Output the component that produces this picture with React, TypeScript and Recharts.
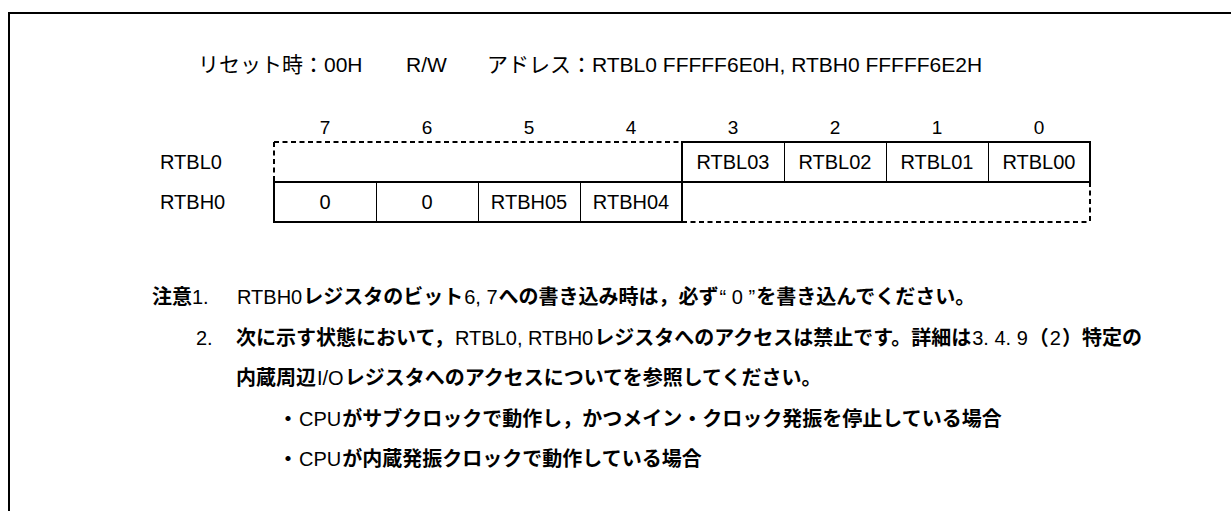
import React from 'react';
import { BarChart, Bar, XAxis, YAxis, LabelList } from 'recharts';

// register layout: bit 7 on the left, null = bit not in that register
const registerNames = ['RTBL0', 'RTBH0'];
const bitNumbers = [7, 6, 5, 4, 3, 2, 1, 0];
const rtbl0Bits: (string | null)[] = [null, null, null, null, 'RTBL03', 'RTBL02', 'RTBL01', 'RTBL00'];
const rtbh0Bits: (string | null)[] = ['0', '0', 'RTBH05', 'RTBH04', null, null, null, null];
const bitCells = [rtbl0Bits, rtbh0Bits];

const headerReset = 'リセット時：00H';
const headerAccess = 'R/W';
const headerAddress = 'アドレス：RTBL0 FFFFF6E0H, RTBH0 FFFFF6E2H';

const noteLines = [
  { prefix: '注意1.', text: 'RTBH0レジスタのビット6, 7への書き込み時は，必ず“ 0 ”を書き込んでください。' },
  { prefix: '2.', text: '次に示す状態において，RTBL0, RTBH0レジスタへのアクセスは禁止です。詳細は3. 4. 9（2）特定の' },
  { prefix: '', text: '内蔵周辺I/Oレジスタへのアクセスについてを参照してください。' },
  { prefix: '', text: '・CPUがサブクロックで動作し，かつメイン・クロック発振を停止している場合' },
  { prefix: '', text: '・CPUが内蔵発振クロックで動作している場合' },
];

const W = 1231;
const H = 511;
const LATIN = '"Liberation Sans", Arial, sans-serif';
const MIXED = '"Liberation Sans", "Noto Sans CJK JP", sans-serif';

const data = registerNames.map((name, r) => {
  const row: Record<string, any> = { name };
  bitNumbers.forEach((b, c) => {
    row[`bit${b}`] = 1;
    row[`lbl${b}`] = bitCells[r][c];
  });
  return row;
});

const used = (r: number, c: number) =>
  r >= 0 && r < bitCells.length && c >= 0 && c < bitNumbers.length && bitCells[r][c] !== null;

// draws the borders of one bit cell
const makeCell = (c: number) => (p: any) => {
  const { x, y, width: w, height: h } = p;
  let r = registerNames.indexOf(p.payload?.name);
  if (r < 0) r = p.index ?? 0;
  const last = bitNumbers.length - 1;
  const lines: React.ReactNode[] = [];
  if (used(r, c)) {
    const edge = (k: string, x1: number, y1: number, x2: number, y2: number, thick: boolean) => {
      const o = thick ? 0 : 0.5;
      lines.push(
        <line key={k} x1={x1 + (x1 === x2 ? o : 0)} y1={y1 + (y1 === y2 ? o : 0)}
          x2={x2 + (x1 === x2 ? o : 0)} y2={y2 + (y1 === y2 ? o : 0)}
          stroke="#000" strokeWidth={thick ? 2 : 1} strokeLinecap="square" />
      );
    };
    edge('t', x, y, x + w, y, !used(r - 1, c));
    edge('b', x, y + h, x + w, y + h, !used(r + 1, c));
    edge('l', x, y, x, y + h, !used(r, c - 1));
    edge('r', x + w, y, x + w, y + h, !used(r, c + 1));
  } else {
    const dash = (k: string, x1: number, y1: number, x2: number, y2: number) =>
      lines.push(<line key={k} x1={x1} y1={y1} x2={x2} y2={y2} stroke="#000" strokeWidth={2} strokeDasharray="5 3.5" />);
    if (r === 0) dash('t', x, y, x + w, y);
    if (r === bitCells.length - 1) dash('b', x, y + h, x + w, y + h);
    if (c === 0) dash('l', x, y, x, y + h);
    if (c === last) dash('r', x + w, y, x + w, y + h);
  }
  return <g>{lines}</g>;
};

const BitTick = (p: any) => (
  <text x={p.x} y={127} textAnchor="middle" dominantBaseline="central"
    fontFamily={'"Liberation Sans Narrow", ' + LATIN} fontSize={19} fill="#000">
    {bitNumbers[Math.floor(p.payload.value)]}
  </text>
);

const RowTick = (p: any) => (
  <text x={160} y={p.y} textAnchor="start" dominantBaseline="central"
    fontFamily={LATIN} fontSize={20} fill="#000">
    {p.payload.value}
  </text>
);

const cjk = /([\u3000-\u30ff\u3400-\u9fff\uff00-\uffef]+)/;
const Mixed = ({ text, pad = 0 }: { text: string; pad?: number }) => (
  <>
    {text.split(cjk).map((s, i) => {
      if (!s) return null;
      const isCjk = cjk.test(s);
      return (
        <span key={i} style={{ fontWeight: isCjk ? 700 : 400, padding: isCjk ? 0 : `0 ${pad}px` }}>{s}</span>
      );
    })}
  </>
);

const textAt = (left: number, cy: number, size = 20): React.CSSProperties => ({
  position: 'absolute', left, top: cy - 15, height: 30, lineHeight: '30px',
  whiteSpace: 'nowrap', fontFamily: MIXED, fontSize: size, color: '#000',
});

const noteY = [297, 338, 378, 419, 459];
const noteX = [152, 196, 236, 278, 278];
const prefixW = [84, 40, 0, 0, 0];

export default function App() {
  return (
    <div style={{ position: 'absolute', left: 0, top: 0, width: W, height: H, background: '#fff', overflow: 'hidden' }}>
      <style>{'html,body{margin:0;overflow:hidden;background:#fff}'}</style>
      <div style={{ position: 'absolute', left: 8, top: 12, width: W - 8, height: 2, background: '#000' }} />
      <div style={{ position: 'absolute', left: 8, top: 12, width: 2, height: H - 12, background: '#000' }} />

      <div style={textAt(198, 65, 21)}>{headerReset}</div>
      <div style={textAt(406, 65, 21)}>{headerAccess}</div>
      <div style={textAt(487, 65, 21)}>{headerAddress}</div>

      <div style={{ position: 'absolute', left: 0, top: 0 }}>
        <BarChart width={W} height={H} data={data} layout="vertical" barCategoryGap={0}
          margin={{ top: 112, right: 141, bottom: 289, left: 0 }}>
          <XAxis type="number" orientation="top" domain={[0, bitNumbers.length]} height={30}
            ticks={bitNumbers.map((_, c) => c + 0.5)} axisLine={false} tickLine={false} tick={<BitTick />} />
          <YAxis type="category" dataKey="name" width={274} axisLine={false} tickLine={false} tick={<RowTick />} />
          {bitNumbers.map((b, c) => (
            <Bar key={b} dataKey={`bit${b}`} stackId="reg" fill="none" isAnimationActive={false} shape={makeCell(c)}>
              <LabelList dataKey={`lbl${b}`} position="center" fill="#000" fontSize={20} fontFamily={LATIN} />
            </Bar>
          ))}
        </BarChart>
      </div>

      {noteLines.map((n, i) => (
        <div key={i} style={textAt(noteX[i], noteY[i])}>
          {n.prefix ? <span style={{ display: 'inline-block', width: prefixW[i] }}><Mixed text={n.prefix} /></span> : null}
          <Mixed text={n.text} pad={1} />
        </div>
      ))}
    </div>
  );
}
